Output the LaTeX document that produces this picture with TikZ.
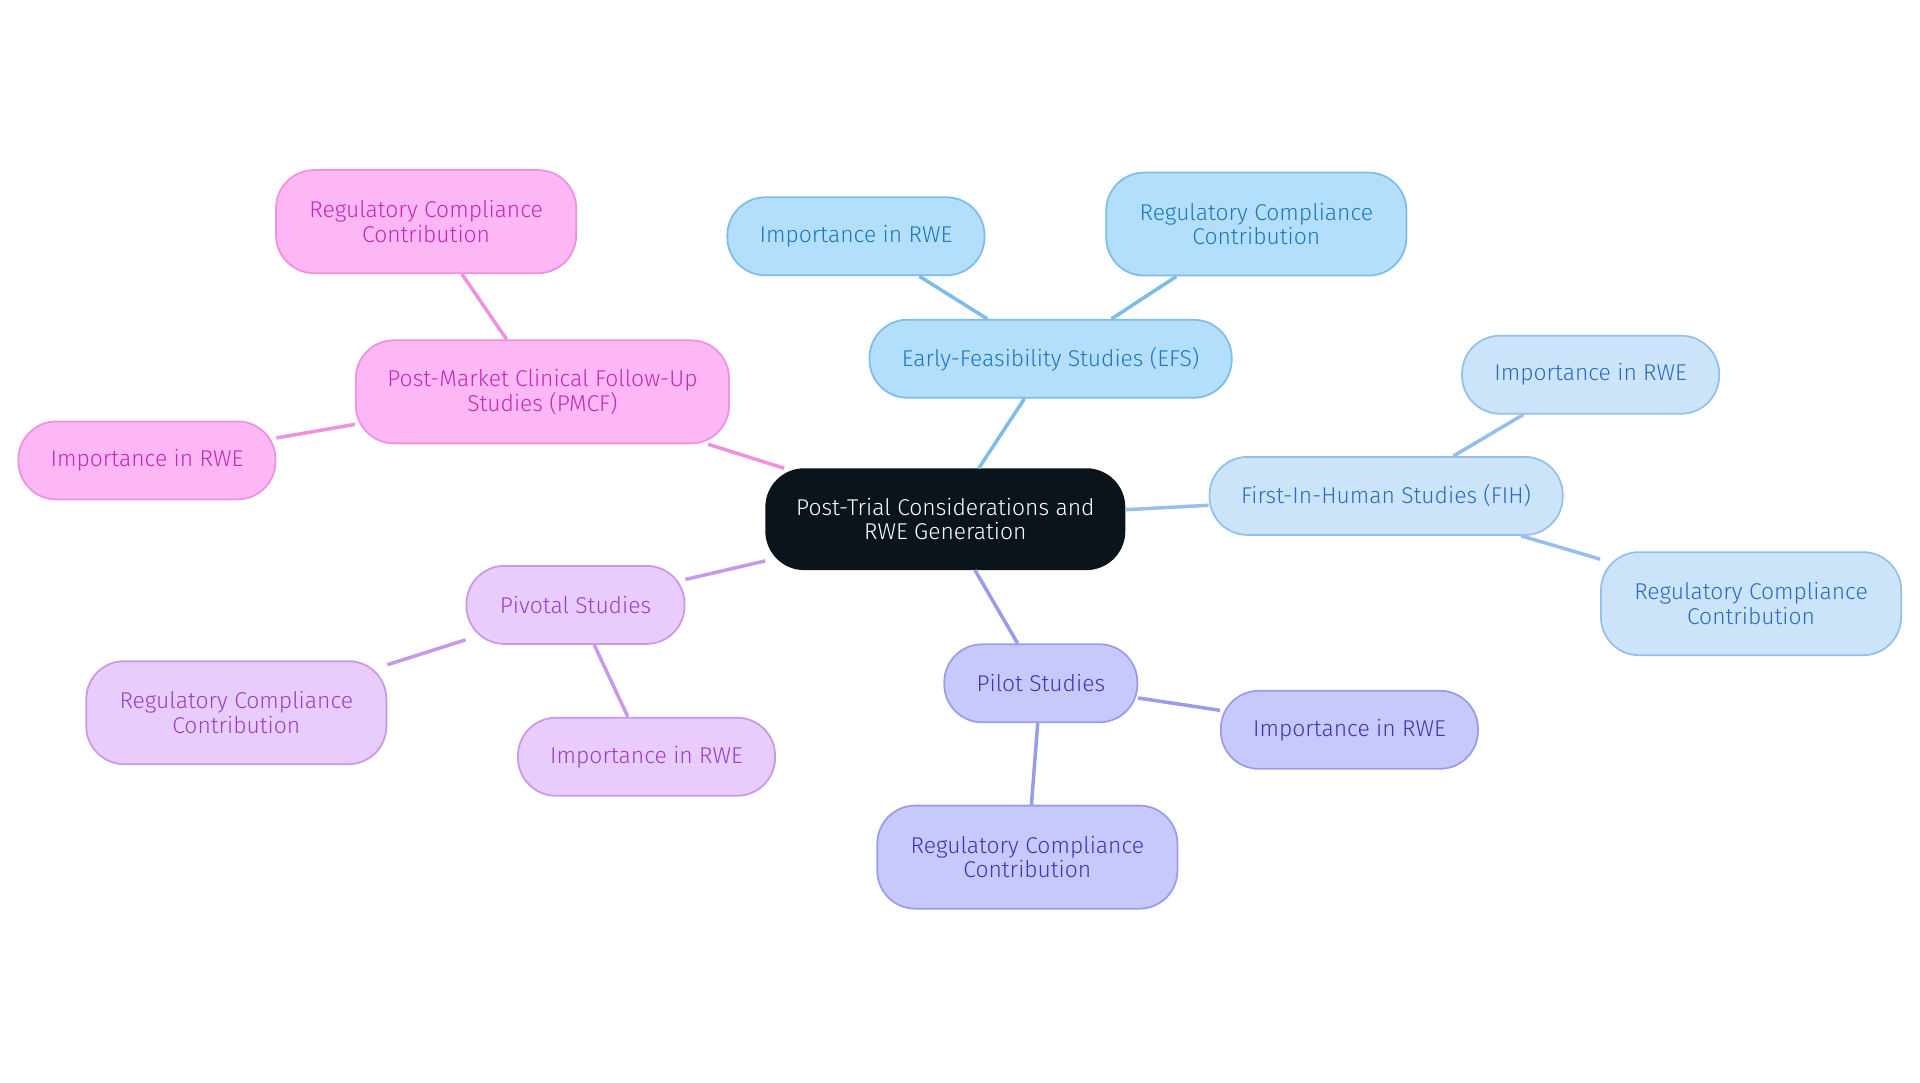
\documentclass[tikz,border=0pt]{standalone}
\usepackage{fontspec}
\setmainfont{Fira Sans Light}
\definecolor{rootfill}{HTML}{0C141B}
\definecolor{efsfill}{HTML}{B3DFFC}\definecolor{efstext}{HTML}{1D78BE}\definecolor{efsline}{HTML}{7DBDE8}
\definecolor{fihfill}{HTML}{CCE4FA}\definecolor{fihtext}{HTML}{2B6BC0}\definecolor{fihline}{HTML}{94C0EA}
\definecolor{pilfill}{HTML}{C7C9FC}\definecolor{piltext}{HTML}{3A38B0}\definecolor{pilline}{HTML}{9A9CEA}
\definecolor{pivfill}{HTML}{E8CCFC}\definecolor{pivtext}{HTML}{9A3FC8}\definecolor{pivline}{HTML}{C79AE8}
\definecolor{pmcfill}{HTML}{FCB7F4}\definecolor{pmctext}{HTML}{C22BB6}\definecolor{pmcline}{HTML}{EE92E0}
\tikzset{
  box/.style={rounded corners=0.38cm,align=center,font=\fontsize{6.5}{7}\selectfont,inner sep=2pt,line width=0.5pt},
  efs/.style={box,fill=efsfill,draw=efsline,text=efstext},
  fih/.style={box,fill=fihfill,draw=fihline,text=fihtext},
  pil/.style={box,fill=pilfill,draw=pilline,text=piltext},
  piv/.style={box,fill=pivfill,draw=pivline,text=pivtext},
  pmc/.style={box,fill=pmcfill,draw=pmcline,text=pmctext},
  small/.style={minimum width=2.57cm,minimum height=0.78cm},
  wide/.style={minimum width=3.0cm,minimum height=1.03cm},
  link/.style={line width=1pt}
}
\begin{document}
\begin{tikzpicture}[x=0.012245cm,y=-0.012245cm]
\useasboundingbox (0,0) rectangle (1568,884);

\node[box,fill=rootfill,draw=rootfill,text=white,minimum width=3.58cm,minimum height=1.0cm] (root) at (772,424) {Post-Trial Considerations and\\RWE Generation};

% EFS
\node[efs,minimum width=3.62cm,minimum height=0.78cm] (efs) at (858,293) {Early-Feasibility Studies (EFS)};
\node[efs,small] (efsimp) at (699,193) {Importance in RWE};
\node[efs,wide] (efsreg) at (1026,183) {Regulatory Compliance\\Contribution};
% FIH
\node[fih,minimum width=3.53cm,minimum height=0.78cm] (fih) at (1132,405) {First-In-Human Studies (FIH)};
\node[fih,small] (fihimp) at (1299,306) {Importance in RWE};
\node[fih,wide] (fihreg) at (1430,493) {Regulatory Compliance\\Contribution};
% Pilot
\node[pil,minimum width=1.93cm,minimum height=0.78cm] (pil) at (850,558) {Pilot Studies};
\node[pil,small] (pilimp) at (1102,596) {Importance in RWE};
\node[pil,wide] (pilreg) at (839,700) {Regulatory Compliance\\Contribution};
% Pivotal
\node[piv,minimum width=2.18cm,minimum height=0.78cm] (piv) at (470,494) {Pivotal Studies};
\node[piv,wide] (pivreg) at (193,582) {Regulatory Compliance\\Contribution};
\node[piv,small] (pivimp) at (528,618) {Importance in RWE};
% PMCF
\node[pmc,minimum width=3.73cm,minimum height=1.03cm] (pmc) at (443,320) {Post-Market Clinical Follow-Up\\Studies (PMCF)};
\node[pmc,wide] (pmcreg) at (348,181) {Regulatory Compliance\\Contribution};
\node[pmc,small] (pmcimp) at (120,376) {Importance in RWE};

\draw[link,efsline] (root) -- (efs) (efs) -- (efsimp) (efs) -- (efsreg);
\draw[link,fihline] (root) -- (fih) (fih) -- (fihimp) (fih) -- (fihreg);
\draw[link,pilline] (root) -- (pil) (pil) -- (pilimp) (pil) -- (pilreg);
\draw[link,pivline] (root) -- (piv) (piv) -- (pivreg) (piv) -- (pivimp);
\draw[link,pmcline] (root) -- (pmc) (pmc) -- (pmcreg) (pmc) -- (pmcimp);
\end{tikzpicture}
\end{document}
